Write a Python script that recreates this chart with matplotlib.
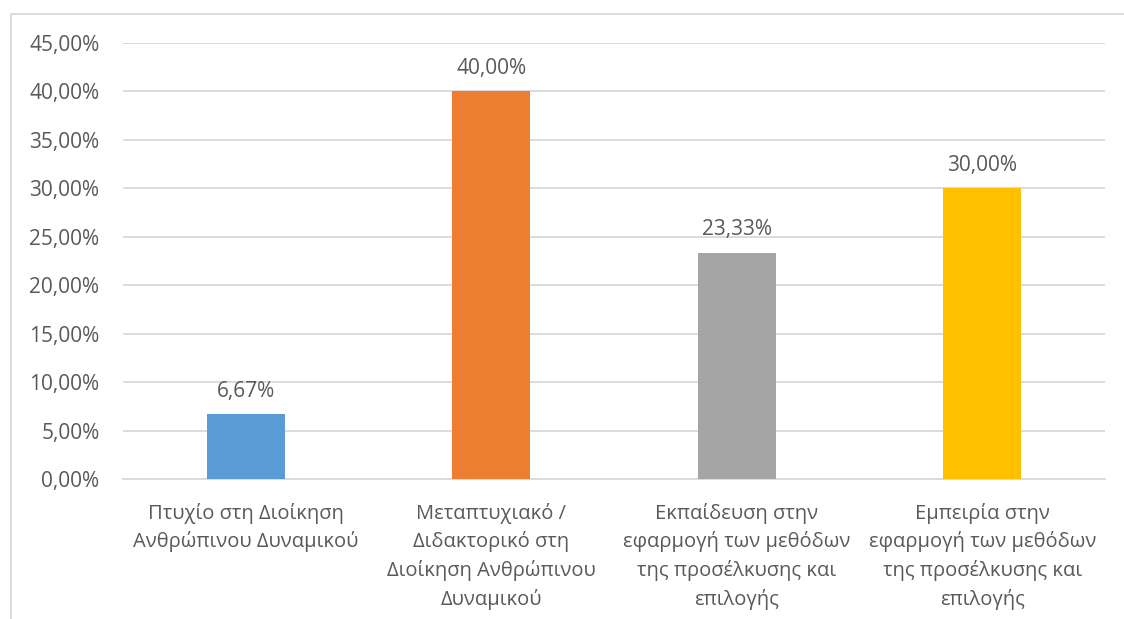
import matplotlib
matplotlib.use("Agg")
import matplotlib.pyplot as plt
from matplotlib.patches import Rectangle
from matplotlib.ticker import FuncFormatter

categories = [
    "Πτυχίο στη Διοίκηση\nΑνθρώπινου Δυναμικού",
    "Μεταπτυχιακό /\nΔιδακτορικό στη\nΔιοίκηση Ανθρώπινου\nΔυναμικού",
    "Εκπαίδευση στην\nεφαρμογή των μεθόδων\nτης προσέλκυσης και\nεπιλογής",
    "Εμπειρία στην\nεφαρμογή των μεθόδων\nτης προσέλκυσης και\nεπιλογής",
]
values = [0.0667, 0.40, 0.2333, 0.30]
colors = ["#5B9BD5", "#ED7D31", "#A5A5A5", "#FFC000"]
yticks = [0.0, 0.05, 0.10, 0.15, 0.20, 0.25, 0.30, 0.35, 0.40, 0.45]

TEXT = "#595959"
GRID = "#D9D9D9"
FONT = "Open Sans"

W, H = 1124, 619
fig = plt.figure(figsize=(W / 100, H / 100), dpi=100)
fig.patch.set_facecolor("white")

# chart frame
fig.patches.append(Rectangle((11 / W, -0.2), 1.2, 1 - 14 / H + 0.2,
                             transform=fig.transFigure, fill=False,
                             edgecolor=GRID, linewidth=1.3))

ax = fig.add_axes([123 / W, 140 / H, (1105 - 123) / W, (479 - 43) / H])
x = range(len(values))
ax.bar(x, values, width=0.318, color=colors, zorder=3)
ax.set_xlim(-0.5, len(values) - 0.5)
ax.set_ylim(0, 0.45)

def pct(v):
    return f"{v * 100:.2f}".replace(".", ",") + "%"

ax.set_yticks(yticks)
ax.yaxis.set_major_formatter(FuncFormatter(lambda v, _: pct(v)))
ax.grid(axis="y", color=GRID, linewidth=1.3, zorder=0)
for s in ["top", "right", "left"]:
    ax.spines[s].set_visible(False)
ax.spines["bottom"].set_color(GRID)
ax.spines["bottom"].set_linewidth(1.3)
ax.tick_params(axis="both", length=0, colors=TEXT)
ax.tick_params(axis="y", pad=17, labelsize=15)
ax.tick_params(axis="x", pad=17)
ax.set_xticks(list(x))
ax.set_xticklabels(categories, fontfamily=FONT, fontsize=14.5, color=TEXT,
                   linespacing=1.48)
for lab in ax.get_yticklabels():
    lab.set_fontfamily(FONT)

for xi, v in zip(x, values):
    ax.annotate(pct(v), (xi, v), xytext=(0, 9), textcoords="offset points",
                ha="center", va="bottom", fontsize=15, color=TEXT,
                fontfamily=FONT)

fig.savefig("out.png", dpi=100, facecolor="white")
